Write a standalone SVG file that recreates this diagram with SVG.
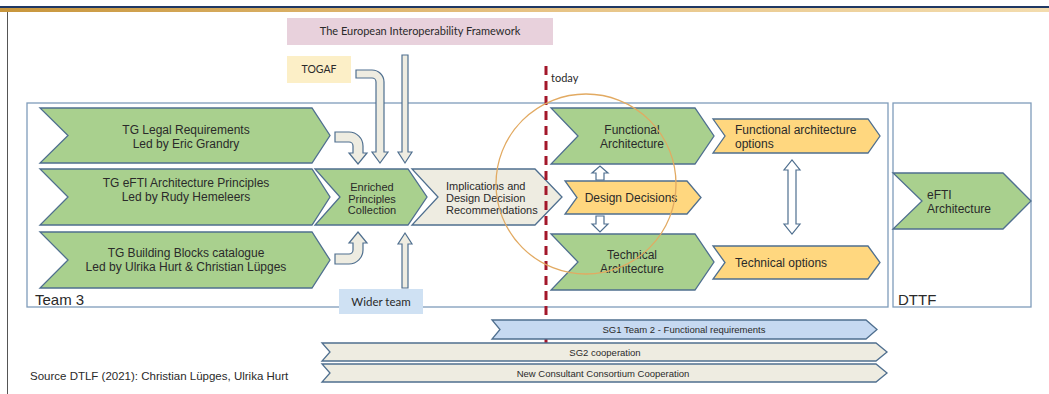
<svg xmlns="http://www.w3.org/2000/svg" width="1049" height="394" viewBox="0 0 1049 394">
<defs>
<linearGradient id="hdr" x1="0" y1="0" x2="1" y2="0">
<stop offset="0" stop-color="#c8963c"/>
<stop offset="0.5" stop-color="#e6c283"/>
<stop offset="1" stop-color="#f3dcae"/>
</linearGradient>
</defs>
<style>
.frame{fill:#ffffff;stroke:#7f9cba;stroke-width:1.3}
.green{fill:#a9d08e;stroke:#4f6f8f;stroke-width:1.3}
.beige{fill:#eeece1;stroke:#4f6f8f;stroke-width:1.3}
.yellow{fill:#ffd77f;stroke:#4f6f8f;stroke-width:1.3}
.blue{fill:#c6d9f1;stroke:#4f6f8f;stroke-width:1.3}
.arr{fill:#eeece1;stroke:#4f6f8f;stroke-width:1.2}
.arrw{fill:#ffffff;stroke:#4f6f8f;stroke-width:1.2}
text{font-family:"Liberation Sans",Arial,sans-serif;fill:#2a2a2a;}
.t12{font-size:12px}
.t11{font-size:11px}
.c{text-anchor:middle}
.cal{font-family:Lato,"Liberation Sans",sans-serif}
</style>
<rect width="1049" height="394" fill="#ffffff"/>
<!-- header band -->
<rect x="0" y="6" width="1049" height="2" fill="#1f3864"/>
<rect x="0" y="8" width="1049" height="4" fill="url(#hdr)"/>
<line x1="7.5" y1="12" x2="7.5" y2="394" stroke="#555" stroke-width="1"/>

<g id="team3">
<rect class="frame" x="27" y="103" width="861" height="204"/>
<text x="35" y="305" style="font-size:15px">Team 3</text>
</g>
<g id="dttf">
<rect class="frame" x="893" y="103" width="138" height="204"/>
<text x="898" y="305" style="font-size:15px">DTTF</text>
</g>

<g id="eif">
<rect x="287" y="18" width="266" height="27" fill="#e8d1dc"/>
<text class="cal c" x="420" y="35" style="font-size:11px">The European Interoperability Framework</text>
</g>
<g id="togaf">
<rect x="287" y="56" width="64" height="27" fill="#fcefc7"/>
<text class="cal c" x="319" y="73" style="font-size:10.5px">TOGAF</text>
</g>
<g id="wider">
<rect x="339" y="289" width="84" height="25" fill="#cfe1f3"/>
<text class="cal c" x="381" y="306" style="font-size:11.5px">Wider team</text>
</g>

<g id="tg-legal">
<polygon class="green" points="40,108 312,108 330,135.5 312,163 40,163 68,135.5"/>
<text class="t12 c" x="186" y="134">TG Legal Requirements</text>
<text class="t12 c" x="186" y="148">Led by Eric Grandry</text>
</g>
<g id="tg-principles">
<polygon class="green" points="40,169 312,169 330,197 312,225 40,225 68,197"/>
<text class="t12 c" x="186" y="187">TG eFTI Architecture Principles</text>
<text class="t12 c" x="186" y="201">Led by Rudy Hemeleers</text>
</g>
<g id="tg-blocks">
<polygon class="green" points="40,232 312,232 330,260 312,288 40,288 68,260"/>
<text class="t12 c" x="186" y="257">TG Building Blocks catalogue</text>
<text class="t12 c" x="186" y="271">Led by Ulrika Hurt &amp; Christian Lüpges</text>
</g>

<g id="enriched">
<polygon class="green" points="315,169 408,169 427,197 408,225 315,225 340,197"/>
<text class="t11 c" x="372" y="191">Enriched</text>
<text class="t11 c" x="372" y="202.5">Principles</text>
<text class="t11 c" x="372" y="214">Collection</text>
</g>
<g id="implications">
<polygon class="beige" points="412,169 535,169 562,197 535,225 412,225 438,197"/>
<text class="t11" x="446" y="190">Implications and</text>
<text class="t11" x="446" y="202">Design Decision</text>
<text class="t11" x="446" y="214">Recommendations</text>
</g>

<g id="func-arch">
<polygon class="green" points="551,108 695,108 714,136 695,164 551,164 578,136"/>
<text class="t12 c" x="632" y="134">Functional</text>
<text class="t12 c" x="632" y="148">Architecture</text>
</g>
<g id="design-decisions">
<polygon class="yellow" points="565,181 687,181 701,197.5 687,214 565,214 577,197.5"/>
<text class="t12 c" x="631" y="202">Design Decisions</text>
</g>
<g id="tech-arch">
<polygon class="green" points="551,234 695,234 714,262 695,290 551,290 578,262"/>
<text class="t12 c" x="632" y="259">Technical</text>
<text class="t12 c" x="632" y="273">Architecture</text>
</g>
<g id="func-options">
<polygon class="yellow" points="713,119 868,119 880,136 868,153 713,153 725,136"/>
<text class="t12" x="735" y="134">Functional architecture</text>
<text class="t12" x="735" y="148">options</text>
</g>
<g id="tech-options">
<polygon class="yellow" points="713,246 868,246 880,262.5 868,279 713,279 725,262.5"/>
<text class="t12" x="735" y="267">Technical options</text>
</g>
<g id="efti-arch">
<polygon class="green" points="893,173 1003,173 1031,201 1003,229 893,229 922,201"/>
<text class="t12" x="927" y="199">eFTI</text>
<text class="t12" x="927" y="213">Architecture</text>
</g>

<g id="connectors">
<path class="arr" d="M335,132 H349 A14,14 0 0 1 363,146 V153 H367 L358,164 L349,153 H353 V146 A4,4 0 0 0 349,142 H335 Z"/>
<path class="arr" d="M335,264 H349 A14,14 0 0 0 363,250 V243 H367 L358,232 L349,243 H353 V250 A4,4 0 0 1 349,254 H335 Z"/>
<path class="arr" d="M356,70 H372 A12,12 0 0 1 384,82 V152 H388 L380,163 L372,152 H376 V82 A4,4 0 0 0 372,78 H356 Z"/>
<path class="arr" d="M402,55 H408 V152 H412 L405,163 L398,152 H402 Z"/>
<path class="arr" d="M402,288 H408 V244 H412 L405,233 L398,244 H402 Z"/>
<path class="arrw" d="M596,180 V173 H592 L600,166 L608,173 H604 V180 Z"/>
<path class="arrw" d="M596,216 V224 H592 L600,232 L608,224 H604 V216 Z"/>
<path class="arrw" d="M788,170 H784 L792,160 L800,170 H796 V224 H800 L792,234 L784,224 H788 Z"/>
</g>

<g id="today">
<line x1="546" y1="66" x2="546" y2="364" stroke="#a3172a" stroke-width="3" stroke-dasharray="9,6"/>
<text class="cal" x="551" y="82" style="font-size:11px">today</text>
</g>
<circle cx="586" cy="184" r="90" fill="none" stroke="#e2aa62" stroke-width="1.3"/>

<g id="sg1">
<polygon class="blue" points="492,320 866,320 877,329.5 866,339 492,339 500,329.5"/>
<text class="c" x="684" y="333" style="font-size:9.5px">SG1 Team 2 - Functional requirements</text>
</g>
<g id="sg2">
<polygon class="beige" points="322,343 876,343 887,352 876,361 322,361 330,352"/>
<text class="c" x="605" y="355.5" style="font-size:9.5px">SG2 cooperation</text>
</g>
<g id="consortium">
<polygon class="beige" points="322,364 876,364 887,373 876,382 322,382 330,373"/>
<text class="c" x="603" y="376.5" style="font-size:9.5px">New Consultant Consortium Cooperation</text>
</g>
<text x="30" y="380" style="font-size:11.5px">Source DTLF (2021): Christian Lüpges, Ulrika Hurt</text>
</svg>
